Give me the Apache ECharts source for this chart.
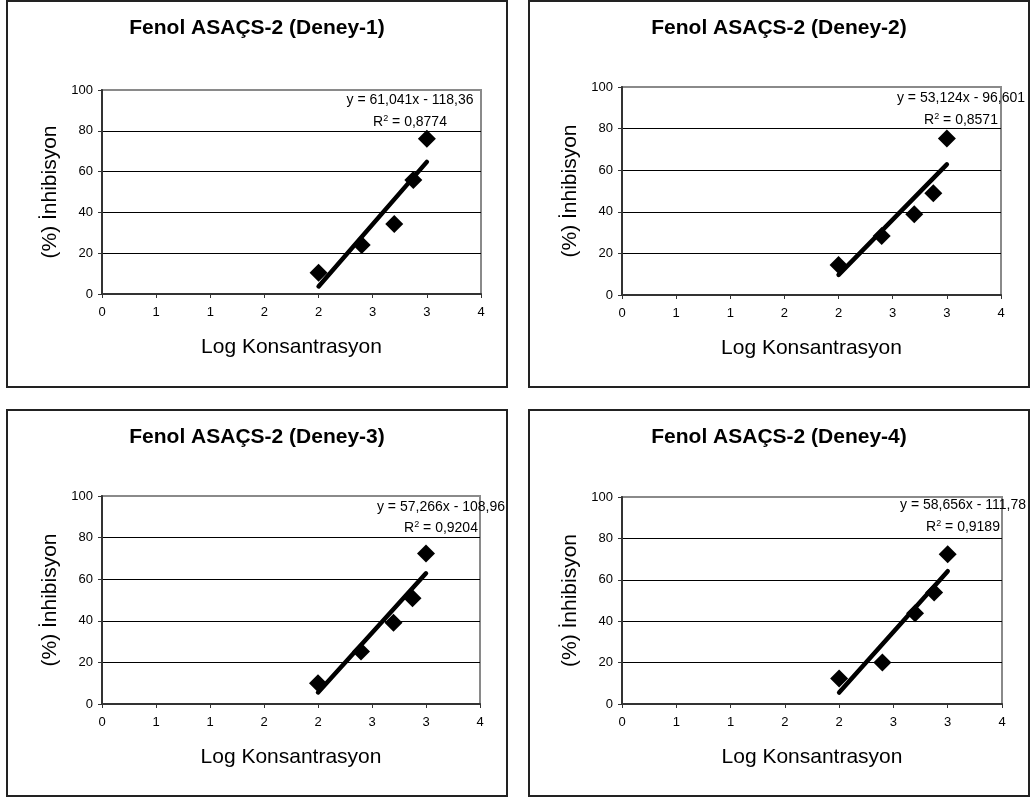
<!DOCTYPE html>
<html>
<head>
<meta charset="utf-8">
<script src="https://cdn.jsdelivr.net/npm/echarts@6/dist/echarts.min.js"></script>
<style>
  html, body { margin: 0; padding: 0; background: #fff; }
  body { width: 1033px; height: 798px; position: relative; overflow: hidden; }
  .panel { position: absolute; width: 502px; height: 388px; }
</style>
</head>
<body>
<div id="p1" class="panel" style="left:6px; top:0px;"></div>
<div id="p2" class="panel" style="left:528px; top:0px;"></div>
<div id="p3" class="panel" style="left:6px; top:409px;"></div>
<div id="p4" class="panel" style="left:528px; top:409px;"></div>
<script>
// Log10 of the tested concentrations (100, 250, 500, 750, 1000)
const logConc = [2, 2.398, 2.699, 2.875, 3];

// % inhibition for each repeat
const inhibition1 = [10.4, 24.0, 34.3, 55.9, 76.1];
const inhibition2 = [14.4, 28.4, 38.8, 48.9, 75.3];
const inhibition3 = [10.0, 25.2, 39.1, 50.8, 72.4];
const inhibition4 = [12.3, 20.1, 43.9, 53.9, 72.3];

const chartTitles = [
  'Fenol ASAÇS-2 (Deney-1)',
  'Fenol ASAÇS-2 (Deney-2)',
  'Fenol ASAÇS-2 (Deney-3)',
  'Fenol ASAÇS-2 (Deney-4)'
];

// Linear trend lines: y = slope * x + intercept
const slopes = [61.041, 53.124, 57.266, 58.656];
const intercepts = [-118.36, -96.601, -108.96, -111.78];
const rSquared = [0.8774, 0.8571, 0.9204, 0.9189];

const xTickLabels = ['0', '1', '1', '2', '2', '3', '3', '4'];
const yTicks = [0, 20, 40, 60, 80, 100];

const inhibitionSets = [inhibition1, inhibition2, inhibition3, inhibition4];

// Per-panel plot area and equation placement
const layouts = [
  { grid: { left: 96, top: 90, width: 379, height: 204 }, eq: { x: 404, y1: 100, y2: 122 } },
  { grid: { left: 94, top: 87, width: 379, height: 208 }, eq: { x: 433, y1: 98, y2: 120 } },
  { grid: { left: 96, top: 87, width: 378, height: 208 }, eq: { x: 435, y1: 98, y2: 119 } },
  { grid: { left: 94, top: 88, width: 380, height: 207 }, eq: { x: 435, y1: 96, y2: 118 } }
];

const FONT = '"Liberation Sans", Arial, sans-serif';
const comma = v => String(v).replace('.', ',');

function buildOption(i) {
  const m = slopes[i], b = intercepts[i];
  const xMin = Math.min(...logConc), xMax = Math.max(...logConc);
  const eqText = 'y = ' + comma(m) + 'x ' + (b < 0 ? '- ' : '+ ') + comma(Math.abs(b));
  const r2Text = 'R{sup|2} = ' + comma(rSquared[i]);
  const L = layouts[i];
  return {
    animation: false,
    textStyle: { fontFamily: FONT },
    title: {
      text: chartTitles[i],
      left: 'center',
      top: 13,
      textStyle: { fontFamily: FONT, fontSize: 21, fontWeight: 'bold', color: '#000' }
    },
    grid: Object.assign({ show: true, borderColor: '#8a8a8a', borderWidth: 2, backgroundColor: '#fff' }, L.grid),
    xAxis: {
      type: 'value',
      min: 0, max: 3.5, interval: 0.5,
      name: 'Log Konsantrasyon',
      nameLocation: 'middle',
      nameGap: 43,
      nameTextStyle: { fontFamily: FONT, fontSize: 21, color: '#000' },
      axisLine: { show: true, onZero: false, lineStyle: { color: '#333', width: 2 } },
      axisTick: { show: true, inside: false, length: 4, lineStyle: { color: '#333', width: 1 } },
      axisLabel: {
        margin: 12, fontFamily: FONT, fontSize: 13, color: '#000',
        formatter: (v) => xTickLabels[Math.round(v / 0.5)]
      },
      splitLine: { show: false }
    },
    yAxis: {
      type: 'value',
      min: yTicks[0], max: yTicks[yTicks.length - 1], interval: 20,
      name: '(%) İnhibisyon',
      nameLocation: 'middle',
      nameGap: 40,
      nameRotate: 90,
      nameTextStyle: { fontFamily: FONT, fontSize: 21, color: '#000' },
      axisLine: { show: true, lineStyle: { color: '#333', width: 2 } },
      axisTick: { show: true, inside: false, length: 4, lineStyle: { color: '#333', width: 1 } },
      axisLabel: { margin: 9, fontFamily: FONT, fontSize: 13, color: '#000' },
      splitLine: { show: true, showMinLine: false, showMaxLine: false, lineStyle: { color: '#000', width: 1 } }
    },
    series: [
      {
        type: 'line',
        data: [[xMin, m * xMin + b], [xMax, m * xMax + b]],
        symbol: 'none',
        lineStyle: { color: '#000', width: 4.5, cap: 'round' },
        z: 3,
        silent: true
      },
      {
        type: 'scatter',
        data: logConc.map((x, k) => [x, inhibitionSets[i][k]]),
        symbol: 'diamond',
        symbolSize: 18,
        itemStyle: { color: '#000', opacity: 1 },
        z: 4
      }
    ],
    graphic: [
      {
        type: 'rect',
        shape: { x: 1, y: 1, width: 500, height: 386 },
        style: { fill: null, stroke: '#222', lineWidth: 2 },
        z: 100, silent: true
      },
      {
        type: 'text',
        style: {
          text: eqText, x: L.eq.x, y: L.eq.y1,
          align: 'center', verticalAlign: 'middle',
          font: '14px ' + FONT, fill: '#000'
        },
        z: 50
      },
      {
        type: 'text',
        style: {
          text: r2Text, x: L.eq.x, y: L.eq.y2,
          align: 'center', verticalAlign: 'middle',
          font: '14px ' + FONT, fill: '#000',
          rich: { sup: { fontSize: 9, verticalAlign: 'top', padding: [0, 0, 6, 0], fontFamily: FONT } }
        },
        z: 50
      }
    ]
  };
}

['p1', 'p2', 'p3', 'p4'].forEach((id, i) => {
  const chart = echarts.init(document.getElementById(id), null, { renderer: 'canvas' });
  chart.setOption(buildOption(i));
});
</script>
</body>
</html>
